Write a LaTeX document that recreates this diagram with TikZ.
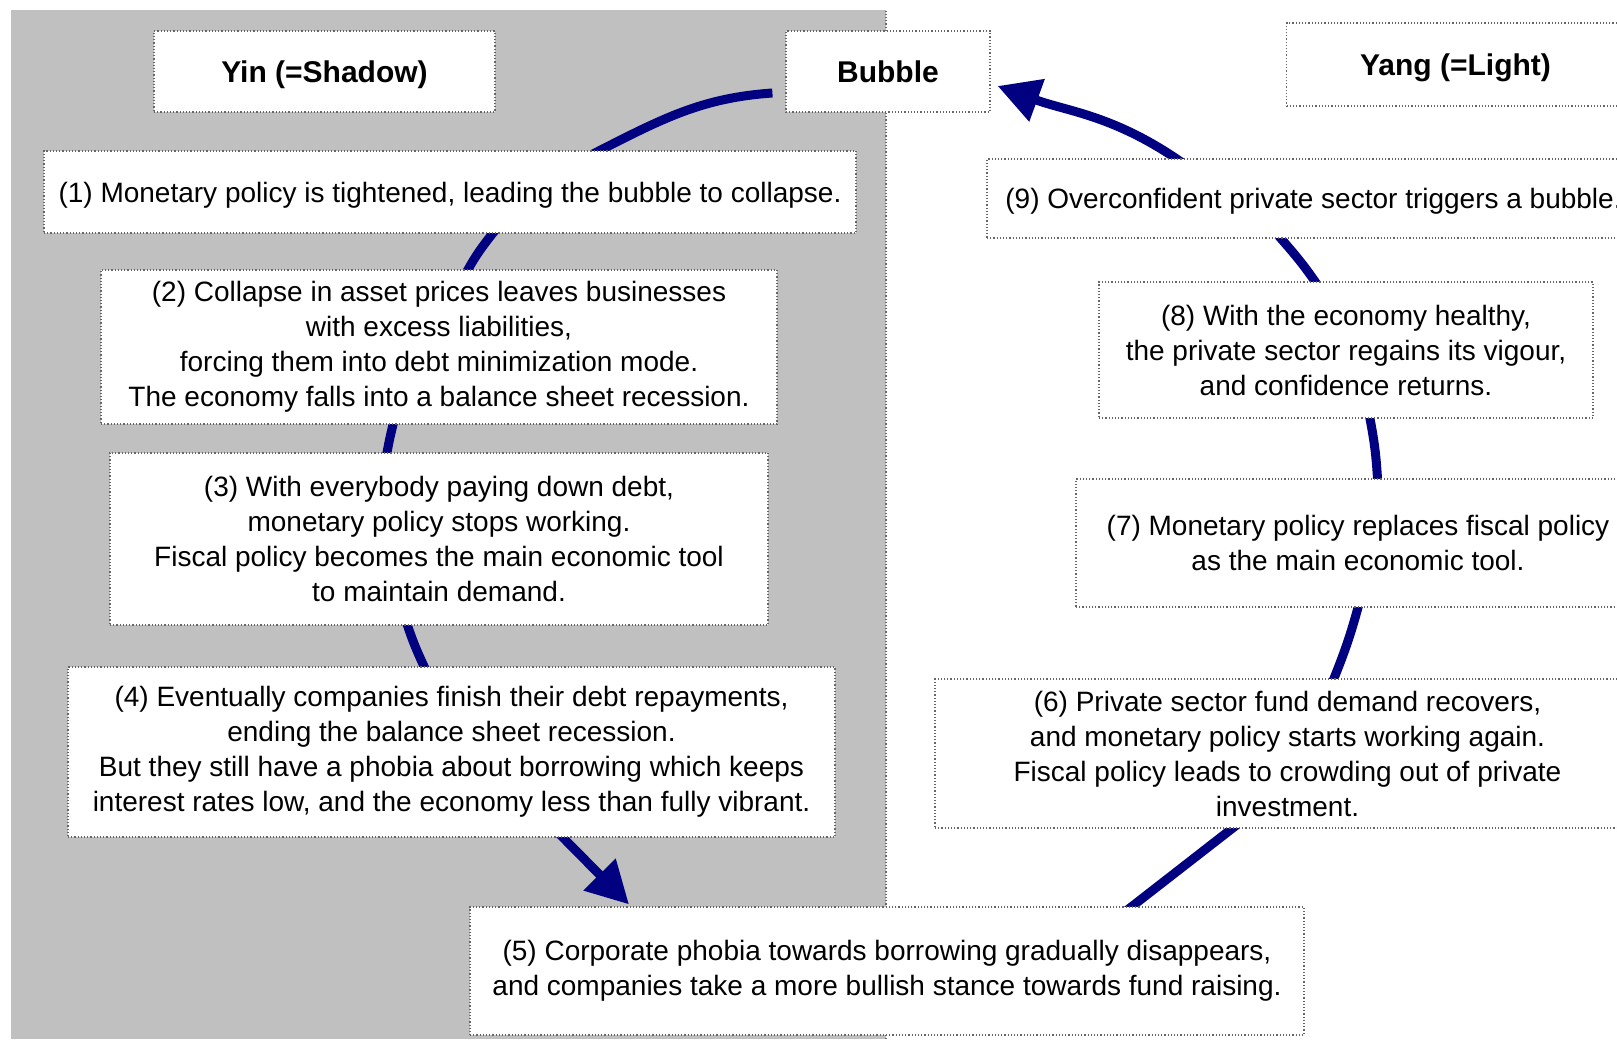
\documentclass[tikz,border=0pt]{standalone}
\usepackage{fontspec}
\setmainfont{Liberation Sans}
\usetikzlibrary{arrows.meta,backgrounds}

\definecolor{yingray}{RGB}{192,192,192}
\definecolor{loopblue}{RGB}{0,0,128}

\begin{document}
\begin{tikzpicture}[
    x=0.5pt, y=0.5pt,
    box/.style={draw=black!60, densely dotted, line width=0.6pt, fill=white,
        align=center, inner sep=0pt, font=\fontsize{14}{17.5}\selectfont},
    title/.style={box, font=\bfseries\fontsize{15}{18}\selectfont},
    oneline/.style={text depth=0pt},
    cyc/.style={draw=loopblue, line width=4.5pt},
    head/.style={-{Triangle[length=21pt, width=21.5pt]}}
]
    \useasboundingbox (0,0) rectangle (1617,1039);

    % titles
    \node[title, oneline, minimum width=170.5pt, minimum height=40.5pt] (yin) at (324.5,967.5) {Yin (=Shadow)};
    \node[title, minimum width=102pt, minimum height=40.5pt] (bubble) at (888,967.5) {Bubble};
    \node[title, oneline, minimum width=169pt, minimum height=41.5pt] (yang) at (1455.5,974.5) {Yang (=Light)};

    % yin side
    \node[box, oneline, minimum width=406pt, minimum height=41pt] (b1) at (450,847)
        {(1) Monetary policy is tightened, leading the bubble to collapse.};
    \node[box, minimum width=338pt, minimum height=77pt] (b2) at (439,692)
        {(2) Collapse in asset prices leaves businesses\\ with excess liabilities,\\
         forcing them into debt minimization mode.\\ The economy falls into a balance sheet recession.};
    \node[box, minimum width=329pt, minimum height=86pt] (b3) at (439,500)
        {(3) With everybody paying down debt,\\ monetary policy stops working.\\
         Fiscal policy becomes the main economic tool\\ to maintain demand.};
    \node[box, minimum width=383.5pt, minimum height=85pt] (b4) at (451.5,287)
        {(4) Eventually companies finish their debt repayments,\\ ending the balance sheet recession.\\
         But they still have a phobia about borrowing which keeps\\ interest rates low, and the economy less than fully vibrant.};
    \node[box, minimum width=417pt, minimum height=64pt] (b5) at (887,68)
        {(5) Corporate phobia towards borrowing gradually disappears,\\ and companies take a more bullish stance towards fund raising.};

    % yang side
    \node[box, minimum width=352.5pt, minimum height=74.5pt] (b6) at (1287.5,285.5)
        {(6) Private sector fund demand recovers,\\ and monetary policy starts working again.\\
         Fiscal policy leads to crowding out of private\\ investment.};
    \node[box, minimum width=282pt, minimum height=64pt] (b7) at (1358,496)
        {(7) Monetary policy replaces fiscal policy\\ as the main economic tool.};
    \node[box, minimum width=247pt, minimum height=68pt] (b8) at (1346,689)
        {(8) With the economy healthy,\\ the private sector regains its vigour,\\ and confidence returns.};
    \node[box, oneline, minimum width=326.5pt, minimum height=39.5pt] (b9) at (1313.5,840.5)
        {(9) Overconfident private sector triggers a bubble.};

    \begin{pgfonlayer}{background}
        \fill[yingray] (11,0) rectangle (886,1029);
        \draw[black!60, densely dotted, line width=0.6pt] (886,0) -- (886,1029);

        % the cycle, downwards on the yin side
        \draw[cyc, shorten >=-4pt] ([shift={(-6.5pt,-10.75pt)}]bubble.west) to[out=184, in=27] ([xshift=75pt]b1.north);
        \draw[cyc, shorten <=-4pt, shorten >=-4pt] ([xshift=21.25pt]b1.south) to[out=232, in=62] ([xshift=14.5pt]b2.north);
        \draw[cyc, shorten <=-4pt, shorten >=-4pt] ([xshift=-23pt]b2.south) to[out=256, in=80] ([xshift=-26pt]b3.north);
        \draw[cyc, shorten <=-4pt, shorten >=-4pt] ([xshift=-15.75pt]b3.south) to[out=288, in=115] ([xshift=-13.75pt]b4.north);
        \draw[cyc, head, shorten <=-4pt] ([xshift=55.75pt]b4.south) -- ([shift={(-129pt,1pt)}]b5.north);

        % and upwards on the yang side
        \draw[cyc, shorten <=-4pt, shorten >=-4pt] ([xshift=122.5pt]b5.north) -- ([xshift=-27.75pt]b6.south);
        \draw[cyc, shorten <=-4pt, shorten >=-4pt] ([xshift=23.25pt]b6.north) to[out=68, in=-105] (b7.south);
        \draw[cyc, shorten <=-4pt, shorten >=-4pt] ([xshift=9.75pt]b7.north) to[out=93, in=-79] ([xshift=12pt]b8.south);
        \draw[cyc, shorten <=-4pt, shorten >=-4pt] ([xshift=-15.5pt]b8.north) to[out=124, in=-49] ([xshift=-16.25pt]b9.south);
        \draw[cyc, head, shorten <=-4pt] ([xshift=-68.75pt]b9.north) to[out=145, in=-20] ([shift={(3.5pt,-7.25pt)}]bubble.east);
    \end{pgfonlayer}
\end{tikzpicture}
\end{document}
